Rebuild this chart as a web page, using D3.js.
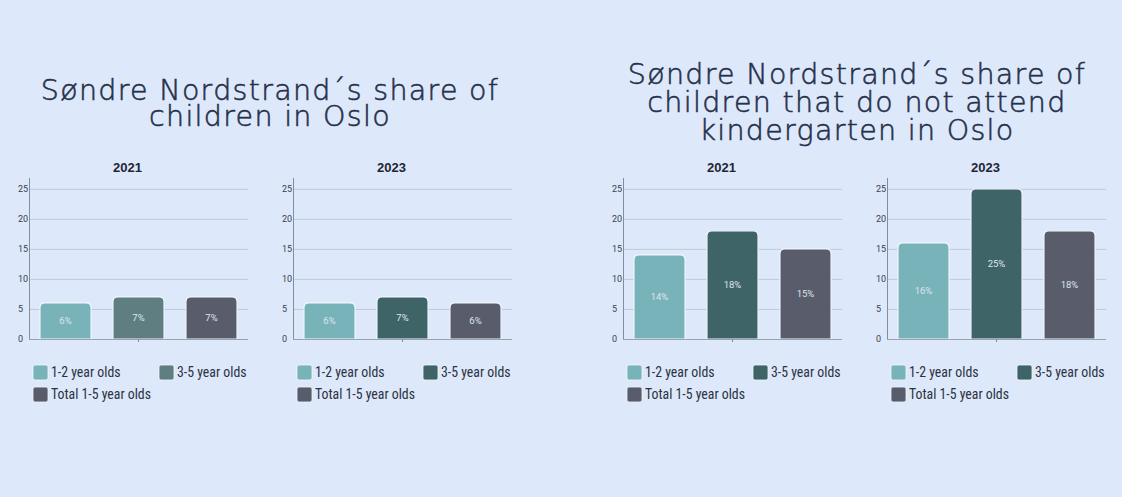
<!DOCTYPE html>
<html>
<head>
<meta charset="utf-8">
<script src="https://cdn.jsdelivr.net/npm/d3@7"></script>
<style>
  html, body { margin: 0; padding: 0; background: #dde8fb; }
  svg { display: block; }
</style>
</head>
<body>
<div id="chart"></div>
<script>
// Data
const categories = ["1-2 year olds", "3-5 year olds", "Total 1-5 year olds"];
const years = ["2021", "2023"];
const yTicks = [0, 5, 10, 15, 20, 25];

const childrenShare2021 = [6, 7, 7];
const childrenShare2023 = [6, 7, 6];
const noKindergarten2021 = [14, 18, 15];
const noKindergarten2023 = [16, 25, 18];

const titleLeft = ["Søndre Nordstrand´s share of", "children in Oslo"];
const titleRight = ["Søndre Nordstrand´s share of", "children that do not attend", "kindergarten in Oslo"];

// Chart setup
const width = 1122;
const height = 497;
const plotW = 219;
const yTop = 178;
const yBottom = 339;

const lightTeal = "#79b3ba";
const darkTeal = "#3f6468";
const greyTeal = "#5e7e82";
const slate = "#585c6b";

const panels = [
    { left: 29,  year: years[0], values: childrenShare2021, colors: [lightTeal, greyTeal, slate] },
    { left: 293, year: years[1], values: childrenShare2023, colors: [lightTeal, darkTeal, slate] },
    { left: 623, year: years[0], values: noKindergarten2021, colors: [lightTeal, darkTeal, slate] },
    { left: 887, year: years[1], values: noKindergarten2023, colors: [lightTeal, darkTeal, slate] }
];

const svg = d3.create("svg")
    .attr("width", width)
    .attr("height", height);

svg.append("rect")
    .attr("width", width)
    .attr("height", height)
    .attr("fill", "#dde8fb");

// Big titles (thin face, thickened a little with a stroke)
const drawTitle = (lines, cx, y0, step) => {
    svg.append("text")
        .attr("text-anchor", "middle")
        .attr("fill", "#25304a")
        .attr("stroke", "#25304a")
        .attr("stroke-width", 0.55)
        .style("font-family", "'DejaVu Sans', sans-serif")
        .style("font-weight", 300)
        .style("font-size", "28.5px")
        .style("letter-spacing", "1.3px")
        .selectAll("tspan")
        .data(lines)
        .join("tspan")
        .attr("x", cx)
        .attr("y", (d, i) => y0 + i * step)
        .text(d => d);
};
drawTitle(titleLeft, 270, 100, 26);
drawTitle(titleRight, 857, 84, 28);

// Rounded-top bar path
const barPath = (x, y, w, h, r) => {
    r = Math.min(r, h);
    return `M${x},${y + h}V${y + r}Q${x},${y} ${x + r},${y}H${x + w - r}Q${x + w},${y} ${x + w},${y + r}V${y + h}Z`;
};

const y = d3.scaleLinear()
    .domain([0, 26.8])
    .range([yBottom, yTop]);

panels.forEach(p => {
    const g = svg.append("g");

    const x = d3.scaleBand()
        .domain(categories)
        .range([p.left, p.left + plotW])
        .paddingInner(0.3)
        .paddingOuter(0.15);

    // grid lines
    g.append("g")
        .selectAll("line")
        .data(yTicks.filter(t => t > 0))
        .join("line")
        .attr("x1", p.left)
        .attr("x2", p.left + plotW)
        .attr("y1", d => y(d) + 0.5)
        .attr("y2", d => y(d) + 0.5)
        .attr("stroke", "#bfc9db")
        .attr("stroke-width", 1);

    // y tick labels
    g.append("g")
        .selectAll("text")
        .data(yTicks)
        .join("text")
        .attr("x", p.left - 11)
        .attr("y", d => y(d) + 3)
        .attr("fill", "#3a4250")
        .style("font-family", "Roboto, sans-serif")
        .style("font-size", "9px")
        .text(d => d);

    // bars
    g.append("g")
        .selectAll("path")
        .data(p.values)
        .join("path")
        .attr("d", (d, i) => barPath(x(categories[i]), y(d), x.bandwidth(), yBottom - y(d), 5))
        .attr("fill", (d, i) => p.colors[i])
        .attr("stroke", "#f2f6fd")
        .attr("stroke-width", 1.2);

    // bar labels
    g.append("g")
        .selectAll("text")
        .data(p.values)
        .join("text")
        .attr("x", (d, i) => x(categories[i]) + x.bandwidth() / 2)
        .attr("y", d => (y(d) + yBottom) / 2 + 3.5)
        .attr("text-anchor", "middle")
        .attr("fill", "#dce6ee")
        .style("font-family", "Roboto, sans-serif")
        .style("font-size", "9.5px")
        .text(d => d + "%");

    // axes lines
    g.append("line")
        .attr("x1", p.left + 0.5).attr("x2", p.left + 0.5)
        .attr("y1", yTop).attr("y2", yBottom)
        .attr("stroke", "#858d9a");
    g.append("line")
        .attr("x1", p.left).attr("x2", p.left + plotW)
        .attr("y1", yBottom + 0.5).attr("y2", yBottom + 0.5)
        .attr("stroke", "#9aa3b0");
    g.append("line")
        .attr("x1", p.left + plotW / 2).attr("x2", p.left + plotW / 2)
        .attr("y1", yBottom).attr("y2", yBottom + 3)
        .attr("stroke", "#858d9a");

    // year title
    g.append("text")
        .attr("x", p.left + 98.5)
        .attr("y", 172)
        .attr("text-anchor", "middle")
        .attr("fill", "#1f2633")
        .style("font-family", "'Liberation Sans', Arial, sans-serif")
        .style("font-weight", "bold")
        .style("font-size", "13px")
        .text(p.year);

    // legend
    const legendPos = [[4, 365], [130, 365], [4, 387]];
    const items = g.append("g")
        .selectAll("g")
        .data(categories)
        .join("g")
        .attr("transform", (d, i) => `translate(${p.left + legendPos[i][0]},${legendPos[i][1]})`);
    items.append("rect")
        .attr("width", 15)
        .attr("height", 15)
        .attr("rx", 2)
        .attr("fill", (d, i) => p.colors[i])
        .attr("stroke", "#f2f6fd")
        .attr("stroke-width", 0.8);
    items.append("text")
        .attr("x", 18)
        .attr("y", 12)
        .attr("fill", "#2b3240")
        .style("font-family", "'Liberation Sans Narrow', 'Roboto Condensed', Roboto, sans-serif")
        .style("font-size", "13.8px")
        .text(d => d);
});

document.getElementById("chart").appendChild(svg.node());
</script>
</body>
</html>
